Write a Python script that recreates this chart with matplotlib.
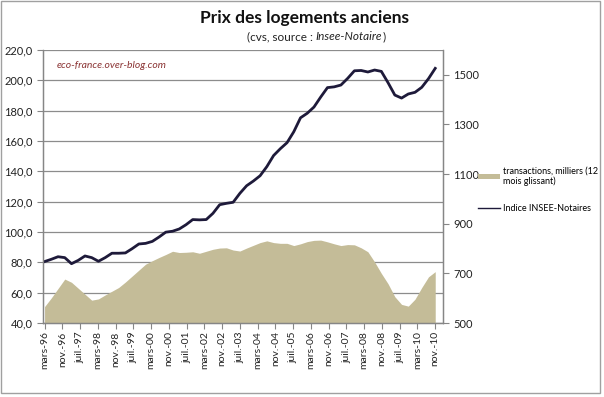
import numpy as np
import matplotlib
matplotlib.use('Agg')
import matplotlib.pyplot as plt
from matplotlib.patches import Rectangle, Patch
from matplotlib.lines import Line2D
from matplotlib.ticker import FuncFormatter

plt.rcParams['font.family'] = ['Lato', 'DejaVu Sans']

# Indice INSEE-Notaires, trimestriel, de mars-96 à nov.-10
indice = [80.5, 82.0, 83.7, 83.1, 79.1, 81.3, 84.2, 83.1, 80.7, 83.1,
          86.0, 86.0, 86.2, 89.0, 92.1, 92.5, 93.8, 96.7, 99.9, 100.5,
          102.0, 104.8, 108.2, 108.0, 108.2, 112.3, 118.0, 118.9, 119.6, 125.5,
          130.5, 133.6, 137.1, 143.1, 150.4, 154.9, 158.9, 166.1, 175.3, 178.3,
          182.4, 189.0, 195.2, 195.7, 196.9, 201.3, 206.3, 206.5, 205.5, 206.8,
          205.9, 198.4, 190.3, 188.3, 191.0, 192.1, 195.4, 201.1, 207.9]

# transactions, milliers (12 mois glissant)
transactions = [566, 601, 639, 677, 664, 640, 616, 592, 597, 613,
                628, 643, 665, 689, 713, 737, 751, 764, 776, 789,
                784, 785, 787, 781, 789, 797, 802, 803, 794, 790,
                802, 813, 824, 831, 824, 821, 821, 812, 819, 828,
                833, 834, 827, 819, 812, 816, 815, 803, 787, 746,
                700, 658, 606, 575, 568, 596, 643, 686, 707]

tick_labels = ['mars-96', 'nov.-96', 'juil.-97', 'mars-98', 'nov.-98', 'juil.-99',
               'mars-00', 'nov.-00', 'juil.-01', 'mars-02', 'nov.-02', 'juil.-03',
               'mars-04', 'nov.-04', 'juil.-05', 'mars-06', 'nov.-06', 'juil.-07',
               'mars-08', 'nov.-08', 'juil.-09', 'mars-10', 'nov.-10']

# mois depuis mars-96
mois = np.linspace(0, 176, len(indice))
mois_ticks = np.arange(0, 8 * len(tick_labels), 8)

grey = '#868686'
fig = plt.figure(figsize=(6.04, 3.97), dpi=100)
W, H = 604, 397

# cadre du graphique
fig.patches.append(Rectangle((1 / W, 4 / H), 599 / W, 392 / H, transform=fig.transFigure,
                             fill=False, edgecolor='#a0a0a0', linewidth=1))

ax = fig.add_axes([43 / W, (H - 323) / H, 400 / W, 273 / H])
ax2 = ax.twinx()

ax.set_xlim(-0.7, 179.5)
ax.set_ylim(40, 220)
ax2.set_ylim(500, 1600)

ax.set_axisbelow(True)
ax.yaxis.grid(True, color='#8c8c8c', linewidth=0.9)
ax.set_yticks(np.arange(40, 221, 20))
ax.yaxis.set_major_formatter(FuncFormatter(lambda v, p: f'{v:.1f}'.replace('.', ',')))
ax2.set_yticks(np.arange(500, 1501, 200))

# aire des transactions sur l'échelle de droite, sous la courbe
ax.fill_between(mois, 500, transactions, transform=ax2.transData,
                color='#c4bc98', linewidth=0, zorder=1)
ax.plot(mois, indice, color='#1e1a3a', linewidth=2, zorder=3)

ax.set_xticks(mois_ticks)
ax.set_xticklabels(tick_labels, rotation=90, fontsize=7.5, color='#222222')
ax.tick_params(axis='y', labelsize=8, colors=grey, labelcolor='#222222', length=4, width=0.8)
ax.tick_params(axis='x', colors=grey, labelcolor='#222222', length=4, width=0.8, pad=2)
ax2.tick_params(axis='y', labelsize=8, colors=grey, labelcolor='#222222', length=4, width=0.8)

for a in (ax, ax2):
    a.spines['top'].set_visible(False)
    for s in ('left', 'right', 'bottom'):
        a.spines[s].set_color(grey)
        a.spines[s].set_linewidth(0.9)

ax.text(0.035, 0.96, 'eco-france.over-blog.com', transform=ax.transAxes, fontsize=7.5,
        style='italic', color='#8b3434', va='top')

# titres
fig.text(304 / W, 1 - 18 / H, 'Prix des logements anciens', ha='center', va='center',
         fontsize=12.5, fontweight='bold', color='#111111')
fig.canvas.draw()
r = fig.canvas.get_renderer()
parts = [('(cvs, source : ', 'normal'), ('Insee-Notaire', 'italic'), (')', 'normal')]
texts = [fig.text(0, 1 - 37 / H, s, fontsize=8.5, style=st, va='center', color='#222222')
         for s, st in parts]
widths = [t.get_window_extent(r).width for t in texts]
x0 = 316 - sum(widths) / 2
for t, w in zip(texts, widths):
    t.set_x(x0 / W)
    x0 += w

# légende
handles = [Patch(facecolor='#c4bc98', edgecolor='none'),
           Line2D([], [], color='#1e1a3a', linewidth=1)]
labels = ['transactions, milliers (12\nmois glissant)', 'Indice INSEE-Notaires']
fig.legend(handles, labels, loc='upper left', bbox_to_anchor=(470 / W, 1 - 158 / H),
           frameon=False, fontsize=6.5, handlelength=2.4, handleheight=0.5,
           labelspacing=2.0, handletextpad=0.4)

fig.savefig('out.png', dpi=100)
